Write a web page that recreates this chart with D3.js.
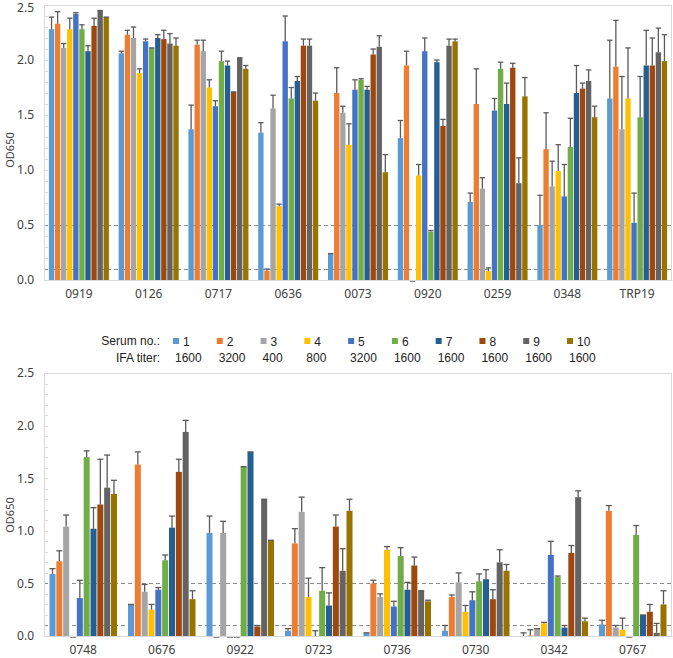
<!DOCTYPE html>
<html><head><meta charset="utf-8">
<script src="https://cdn.jsdelivr.net/npm/d3@7/dist/d3.min.js"></script>
<style>
html,body{margin:0;padding:0;background:#fff;}
svg{display:block;}
</style></head>
<body>
<svg id="chart" width="673" height="658"></svg>
<script>
// ---- data ----
const seriesNames = ["1","2","3","4","5","6","7","8","9","10"];
const ifaTiters = ["1600","3200","400","800","3200","1600","1600","1600","1600","1600"];
const seriesColors = ["#5B9BD5","#ED7D31","#A5A5A5","#FFC000","#4472C4","#70AD47","#255E91","#9E480E","#636363","#997300"];
const yTicks = [0,0.5,1.0,1.5,2.0,2.5];
const cutoffLines = [0.5,0.1];

const topCategories = ["0919","0126","0717","0636","0073","0920","0259","0348","TRP19"];
const topValues = [
  [2.28,2.33,2.11,2.28,2.42,2.28,2.08,2.31,2.45,2.39],
  [2.06,2.23,2.20,1.88,2.17,2.11,2.20,2.19,2.15,2.13],
  [1.37,2.14,2.08,1.75,1.58,1.99,1.95,1.71,2.02,1.92],
  [1.34,0.085,1.56,0.67,2.17,1.65,1.81,2.13,2.13,1.63],
  [0.24,1.70,1.52,1.23,1.73,1.82,1.73,2.05,2.12,0.98],
  [1.29,1.95,-0.01,0.95,2.08,0.44,1.98,1.40,2.13,2.17],
  [0.71,1.60,0.83,0.08,1.54,1.92,1.60,1.93,0.88,1.67],
  [0.50,1.19,0.85,0.99,0.76,1.21,1.70,1.74,1.81,1.48],
  [1.65,1.94,1.37,1.65,0.52,1.48,1.95,1.95,2.07,1.99]
];
const topErrors = [
  [0.11,0.11,0.04,0.10,0.01,0.04,0.05,0.07,0.00,0.00],
  [0.02,0.04,0.10,0.04,0.02,0.00,0.03,0.08,0.09,0.07],
  [0.22,0.04,0.10,0.07,0.05,0.09,0.04,0.00,0.00,0.03],
  [0.09,0.015,0.12,0.02,0.23,0.10,0.04,0.06,0.06,0.07],
  [0.00,0.23,0.06,0.19,0.09,0.01,0.03,0.05,0.10,0.16],
  [0.16,0.13,0.00,0.10,0.12,0.01,0.02,0.06,0.06,0.02],
  [0.08,0.32,0.10,0.03,0.11,0.06,0.19,0.04,0.23,0.17],
  [0.27,0.33,0.23,0.24,0.29,0.26,0.25,0.05,0.10,0.10],
  [0.53,0.42,0.48,0.46,0.27,0.37,0.32,0.25,0.22,0.24]
];

const bottomCategories = ["0748","0676","0922","0723","0736","0730","0342","0767"];
const bottomValues = [
  [0.59,0.71,1.04,-0.01,0.36,1.70,1.02,1.25,1.41,1.35],
  [0.30,1.63,0.42,0.25,0.44,0.72,1.03,1.56,1.94,0.35],
  [0.98,-0.01,0.98,-0.01,-0.01,1.61,1.75,0.09,1.30,0.91],
  [0.05,0.88,1.18,0.37,-0.01,0.43,0.29,1.04,0.62,1.19],
  [0.03,0.50,0.37,0.82,0.28,0.76,0.44,0.67,0.43,0.33],
  [0.05,0.37,0.51,0.23,0.34,0.52,0.54,0.35,0.70,0.62],
  [-0.01,0.005,0.07,0.12,0.77,0.56,0.08,0.79,1.32,0.14],
  [0.11,1.19,0.08,0.06,-0.01,0.96,0.20,0.23,0.03,0.30]
];
const bottomErrors = [
  [0.05,0.10,0.11,0.00,0.17,0.06,0.20,0.43,0.31,0.13],
  [0.00,0.12,0.07,0.05,0.02,0.05,0.11,0.12,0.11,0.08],
  [0.16,0.00,0.11,0.00,0.00,0.00,0.00,0.01,0.00,0.00],
  [0.02,0.14,0.14,0.18,0.06,0.22,0.12,0.11,0.21,0.11],
  [0.00,0.03,0.03,0.03,0.05,0.08,0.07,0.08,0.00,0.01],
  [0.05,0.02,0.09,0.06,0.08,0.07,0.09,0.09,0.12,0.06],
  [0.04,0.055,0.00,0.01,0.13,0.01,0.02,0.07,0.06,0.03],
  [0.04,0.05,0.02,0.11,0.00,0.09,0.00,0.07,0.09,0.13]
];

// ---- drawing ----
const svg = d3.select("#chart");
const axisFont = "'Noto Sans', 'Open Sans', sans-serif";
const legendFont = "'Liberation Sans', Arial, sans-serif";
const textColor = "#404040";

function drawPanel(cfg){
  const {left,right,top,bottom,cats,vals,errs,labelY} = cfg;
  const g = svg.append("g");
  const x0 = d3.scaleBand().domain(cats).range([left,right]).paddingInner(0.14).paddingOuter(0.07);
  const x1 = d3.scaleBand().domain(d3.range(seriesNames.length)).range([0,x0.bandwidth()]).paddingInner(0.12);
  const y = d3.scaleLinear().domain([0,2.5]).range([bottom,top]);

  // plot border
  g.append("rect").attr("x",left+0.5).attr("y",top+0.5).attr("width",right-left-1).attr("height",bottom-top)
    .attr("fill","none").attr("stroke","#d9d9d9").attr("stroke-width",1);

  // minor ticks inside left axis
  const minor = d3.range(0,2.5001,0.1);
  g.selectAll(".mt").data(minor).join("line")
    .attr("x1",left).attr("x2",left+4)
    .attr("y1",d=>Math.round(y(d))+0.5).attr("y2",d=>Math.round(y(d))+0.5)
    .attr("stroke","#d9d9d9");

  // cutoff dashed lines
  g.selectAll(".cut").data(cutoffLines).join("line")
    .attr("x1",left).attr("x2",right)
    .attr("y1",d=>Math.round(y(d))+0.5).attr("y2",d=>Math.round(y(d))+0.5)
    .attr("stroke","#8c8c8c").attr("stroke-width",1).attr("stroke-dasharray","4,3");

  // bars
  const groups = g.selectAll(".grp").data(cats).join("g")
    .attr("transform",d=>`translate(${x0(d)},0)`);
  groups.each(function(cat,ci){
    const gg = d3.select(this);
    const rows = vals[ci].map((v,si)=>({v, e:errs[ci][si], si}));
    gg.selectAll("rect").data(rows).join("rect")
      .attr("x",d=>x1(d.si))
      .attr("width",x1.bandwidth())
      .attr("y",d=>y(Math.max(0,d.v)))
      .attr("height",d=>Math.max(1,Math.abs(y(d.v)-y(0))))
      .attr("fill",d=>seriesColors[d.si]);
    // error bars
    const eb = gg.selectAll(".eb").data(rows).join("g");
    eb.append("line")
      .attr("x1",d=>x1(d.si)+x1.bandwidth()/2).attr("x2",d=>x1(d.si)+x1.bandwidth()/2)
      .attr("y1",d=>y(d.v)).attr("y2",d=>y(d.v+d.e))
      .attr("stroke","#5a5a5a").attr("stroke-width",1.3);
    eb.append("line")
      .attr("x1",d=>x1(d.si)).attr("x2",d=>x1(d.si)+x1.bandwidth())
      .attr("y1",d=>y(d.v+d.e)).attr("y2",d=>y(d.v+d.e))
      .attr("stroke","#5a5a5a").attr("stroke-width",1.3);
  });

  // y axis
  const yAxis = d3.axisLeft(y).tickValues(yTicks).tickFormat(d3.format(".1f")).tickSize(0).tickPadding(10);
  const ya = g.append("g").attr("transform",`translate(${left},0)`).call(yAxis);
  ya.select(".domain").attr("stroke","#d9d9d9");
  ya.selectAll("text").attr("font-family",axisFont).attr("font-size",12).attr("fill",textColor);
  if (top < 10) {
    ya.selectAll(".tick").filter(d=>d===2.5).select("text").attr("dy","0.55em");
  }

  // x axis
  const xAxis = d3.axisBottom(x0).tickSize(0).tickPadding(9);
  const xa = g.append("g").attr("transform",`translate(0,${bottom})`).call(xAxis);
  xa.select(".domain").attr("stroke","#d9d9d9");
  xa.selectAll("text").attr("font-family",axisFont).attr("font-size",12).attr("fill",textColor);

  // y label
  g.append("text").attr("transform",`translate(14,${labelY}) rotate(-90)`)
    .attr("text-anchor","middle").attr("font-family",axisFont).attr("font-size",11)
    .attr("fill",textColor).text("OD650");
}

drawPanel({left:44,right:672,top:5,bottom:280,cats:topCategories,vals:topValues,errs:topErrors,labelY:150});
drawPanel({left:44,right:672,top:373,bottom:636,cats:bottomCategories,vals:bottomValues,errs:bottomErrors,labelY:515});

// legend
const lg = svg.append("g");
const lx = d3.scaleLinear().domain([0,9]).range([173,567]);
const lfs = 12;
lg.append("text").attr("x",160).attr("y",345).attr("text-anchor","end")
  .attr("font-family",legendFont).attr("font-size",lfs).attr("fill","#222").text("Serum no.:");
lg.append("text").attr("x",160).attr("y",362).attr("text-anchor","end")
  .attr("font-family",legendFont).attr("font-size",lfs).attr("fill","#222").text("IFA titer:");
const items = lg.selectAll(".li").data(seriesNames).join("g");
items.append("rect").attr("x",(d,i)=>lx(i)).attr("y",338).attr("width",6).attr("height",6)
  .attr("fill",(d,i)=>seriesColors[i]);
items.append("text").attr("x",(d,i)=>lx(i)+10).attr("y",345.5)
  .attr("font-family",legendFont).attr("font-size",lfs).attr("fill","#222").text(d=>d);
items.append("text").attr("x",(d,i)=>lx(i)+2).attr("y",362)
  .attr("font-family",legendFont).attr("font-size",lfs).attr("fill","#222").text((d,i)=>ifaTiters[i]);
</script>
</body></html>
